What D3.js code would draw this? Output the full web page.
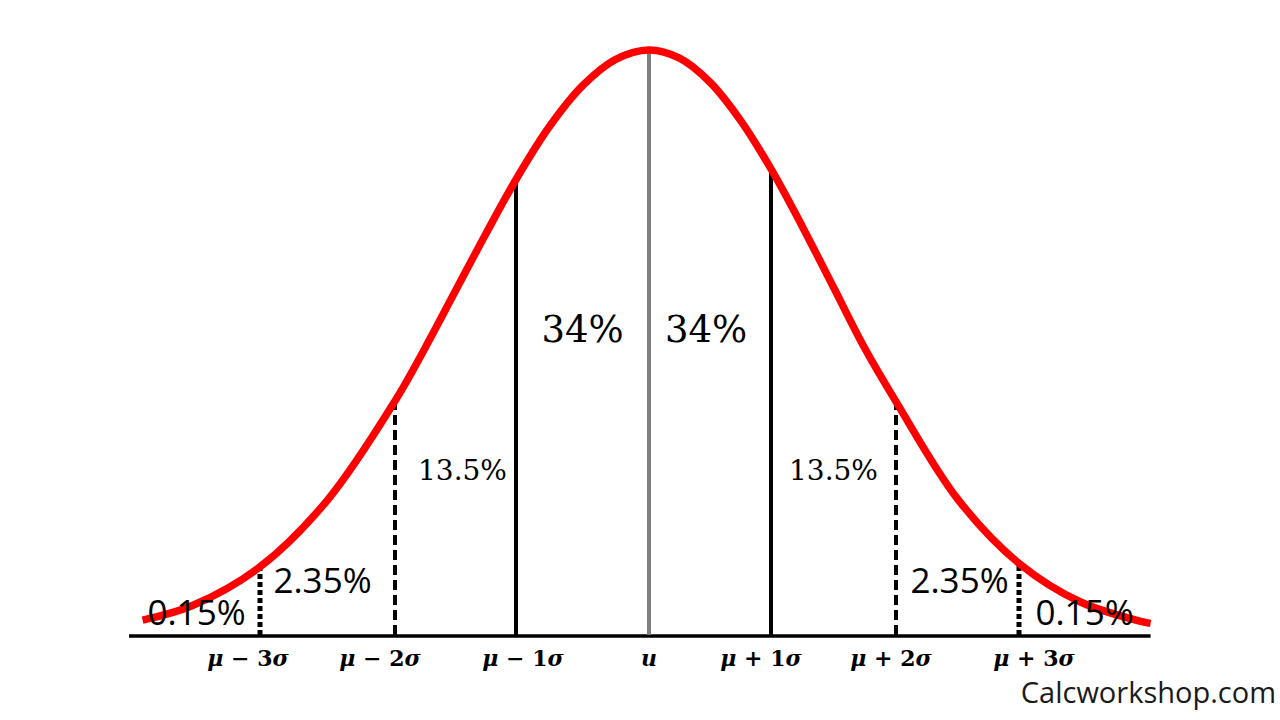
<!DOCTYPE html>
<html lang="en">
<head>
<meta charset="UTF-8">
<title>Normal distribution</title>
<script src="https://d3js.org/d3.v7.min.js"></script>
<style>
html, body { margin: 0; padding: 0; background: white; }
svg { display: block; }
</style>
</head>
<body>
<svg></svg>
<script>
// curve: x in sigma steps, y as share of the peak
const curveX = [-3.87, -3.5, -3, -2.5, -2, -1.75, -1.5, -1.25, -1, -0.75, -0.5, -0.25, 0,
                0.25, 0.5, 0.75, 1, 1.25, 1.5, 1.75, 2, 2.5, 3, 3.5, 4, 4.07];
const curveY = [0.027, 0.052, 0.118, 0.232, 0.401, 0.492, 0.589, 0.686, 0.779, 0.869, 0.939, 0.984, 1,
                0.986, 0.945, 0.880, 0.797, 0.699, 0.595, 0.491, 0.40, 0.234, 0.124, 0.058, 0.0245, 0.0216];

const sigmaSteps = [-3, -2, -1, 0, 1, 2, 3];
const tickLabels = ["μ − 3σ", "μ − 2σ", "μ − 1σ", "u", "μ + 1σ", "μ + 2σ", "μ + 3σ"];

const regionBounds = [-4, -3, -2, -1, 0, 1, 2, 3, 4];
const shareLabels = ["0.15%", "2.35%", "13.5%", "34%", "34%", "13.5%", "2.35%", "0.15%"];

let width = 1280;
let height = 720;

let svg = d3.select("svg")
  .attr("width", width)
  .attr("height", height);

// the sigma lines in the source are not evenly spaced
let x = d3.scaleLinear()
  .domain(sigmaSteps)
  .range([260, 395, 516, 649, 771, 896, 1019]);
let y = d3.scaleLinear()
  .domain([0, 1])
  .range([636, 50]);

let curveAt = u => curveY[curveX.indexOf(u)];

// baseline
svg.append("line")
  .attr("x1", x(-3.97))
  .attr("x2", x(4.07))
  .attr("y1", y(0))
  .attr("y2", y(0))
  .style("stroke", "black")
  .style("stroke-width", 3.5);

// sigma lines
function lineStyle(k) {
  let a = Math.abs(k);
  if (a == 0) return { color: "#7f7f7f", dash: null, w: 4 };
  if (a == 1) return { color: "black", dash: null, w: 4 };
  if (a == 2) return { color: "black", dash: "10,5", w: 4 };
  return { color: "black", dash: "5,3", w: 5 };
}

svg.append("g").selectAll("line").data(sigmaSteps).enter().append("line")
  .attr("x1", d => x(d))
  .attr("x2", d => x(d))
  .attr("y1", y(0) - 1)
  .attr("y2", d => y(curveAt(d)))
  .style("stroke", d => lineStyle(d).color)
  .style("stroke-width", d => lineStyle(d).w)
  .style("stroke-dasharray", d => lineStyle(d).dash);

// bell curve
let pts = curveX.map((u, i) => [u, curveY[i]]);
svg.append("path")
  .attr("d", d3.line()
    .x(d => x(d[0]))
    .y(d => y(d[1]))
    .curve(d3.curveCatmullRom)(pts))
  .attr("fill", "none")
  .attr("stroke", "#ff0000")
  .attr("stroke-width", 7.5);

// share labels
function shareStyle(i) {
  let a = Math.min(i, 7 - i);
  if (a == 3) return { font: "DejaVu Serif", size: 37, base: 342 };
  if (a == 2) return { font: "DejaVu Serif", size: 28, base: 480 };
  if (a == 1) return { font: "Open Sans", size: 35, base: 593 };
  return { font: "Open Sans", size: 35, base: 625 };
}
let shareShift = [4, -5, 7, 0, -4, 0, 2, 4];

svg.append("g").selectAll("text").data(shareLabels).enter().append("text")
  .attr("x", (d, i) => (x(regionBounds[i]) + x(regionBounds[i + 1])) / 2 + shareShift[i])
  .attr("y", (d, i) => shareStyle(i).base)
  .attr("text-anchor", "middle")
  .style("font-family", (d, i) => shareStyle(i).font)
  .style("font-size", (d, i) => shareStyle(i).size + "px")
  .style("fill", "black")
  .text(d => d);

// sigma tick labels
let tickShift = [-12, -15, 7, 0, -10, -5, 15];
let ticks = svg.append("g").selectAll("text").data(tickLabels).enter().append("text")
  .attr("x", (d, i) => x(sigmaSteps[i]) + tickShift[i])
  .attr("y", 666)
  .attr("text-anchor", "middle")
  .style("font-family", "DejaVu Serif")
  .style("font-size", "22px")
  .style("font-weight", "bold")
  .style("fill", "black");

ticks.each(function(d) {
  let t = d3.select(this);
  d.split("").forEach(c => {
    t.append("tspan")
      .style("font-style", /[μσu]/.test(c) ? "italic" : "normal")
      .text(c);
  });
});

// watermark
svg.append("text")
  .attr("x", 1276)
  .attr("y", 703)
  .attr("text-anchor", "end")
  .style("font-family", "Open Sans")
  .style("font-size", "29px")
  .style("fill", "#1a1a1a")
  .text("Calcworkshop.com");
</script>
</body>
</html>
